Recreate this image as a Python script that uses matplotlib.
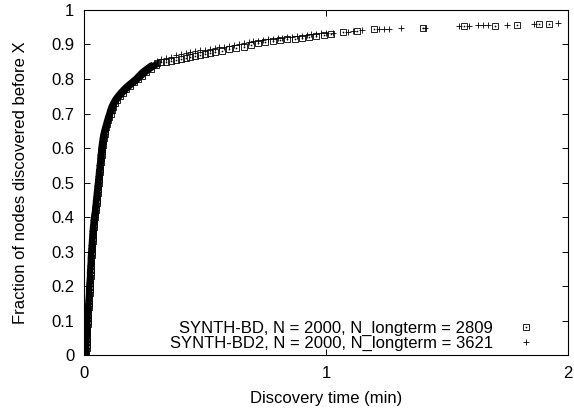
import matplotlib
matplotlib.use('Agg')
import matplotlib.pyplot as plt
from matplotlib.legend_handler import HandlerTuple

plt.rcParams['font.family'] = ['Liberation Sans', 'DejaVu Sans']

# fraction levels for the steep (dense) part of both CDFs
steep_frac = [0.00, 0.01, 0.02, 0.03, 0.04, 0.05, 0.06, 0.07, 0.08, 0.09,
              0.10, 0.11, 0.12, 0.13, 0.14, 0.15, 0.16, 0.17, 0.18, 0.19,
              0.20, 0.21, 0.22, 0.23, 0.24, 0.25, 0.26, 0.27, 0.28, 0.29,
              0.30, 0.31, 0.32, 0.33, 0.34, 0.35, 0.36, 0.37, 0.38, 0.39,
              0.40, 0.41, 0.42, 0.43, 0.44, 0.45, 0.46, 0.47, 0.48, 0.49,
              0.50, 0.51, 0.52, 0.53, 0.54, 0.55, 0.56, 0.57, 0.58, 0.59,
              0.60, 0.61, 0.62, 0.63, 0.64, 0.65, 0.66, 0.67, 0.68, 0.69,
              0.70, 0.71, 0.72, 0.73, 0.74, 0.75, 0.76, 0.77, 0.78, 0.79,
              0.80, 0.81, 0.82, 0.83, 0.84]

# SYNTH-BD (squares)
bd_steep_x = [0.009, 0.010, 0.011, 0.011, 0.012, 0.012, 0.013, 0.013, 0.014, 0.015,
              0.016, 0.016, 0.017, 0.018, 0.019, 0.020, 0.021, 0.022, 0.023, 0.023,
              0.024, 0.025, 0.026, 0.027, 0.027, 0.028, 0.029, 0.030, 0.031, 0.032,
              0.033, 0.034, 0.035, 0.036, 0.037, 0.038, 0.039, 0.040, 0.042, 0.043,
              0.045, 0.047, 0.049, 0.050, 0.052, 0.053, 0.055, 0.056, 0.058, 0.059,
              0.061, 0.062, 0.064, 0.065, 0.067, 0.068, 0.070, 0.071, 0.073, 0.075,
              0.076, 0.078, 0.080, 0.082, 0.085, 0.088, 0.092, 0.096, 0.100, 0.105,
              0.110, 0.115, 0.121, 0.128, 0.137, 0.148, 0.161, 0.175, 0.190, 0.207,
              0.224, 0.240, 0.256, 0.275, 0.297]
bd_tail_x = [0.30, 0.32, 0.34, 0.36, 0.38, 0.40, 0.42, 0.44, 0.46, 0.48,
             0.50, 0.52, 0.54, 0.57, 0.60, 0.63, 0.66, 0.69, 0.72, 0.75,
             0.78, 0.81, 0.84, 0.87, 0.90, 0.93, 0.96, 0.99, 1.02, 1.07,
             1.13, 1.20, 1.40, 1.57, 1.70, 1.79, 1.88, 1.92]
bd_tail_y = [0.846, 0.848, 0.850, 0.852, 0.855, 0.857, 0.860, 0.863, 0.866, 0.869,
             0.872, 0.875, 0.878, 0.882, 0.886, 0.890, 0.894, 0.899, 0.903, 0.906,
             0.910, 0.913, 0.915, 0.917, 0.919, 0.922, 0.924, 0.927, 0.930, 0.935,
             0.940, 0.944, 0.948, 0.953, 0.955, 0.956, 0.958, 0.959]

# SYNTH-BD2 (plus)
bd2_steep_x = [0.007, 0.008, 0.008, 0.009, 0.009, 0.010, 0.010, 0.011, 0.011, 0.012,
               0.013, 0.013, 0.014, 0.015, 0.016, 0.017, 0.018, 0.019, 0.020, 0.020,
               0.021, 0.022, 0.023, 0.024, 0.024, 0.025, 0.026, 0.027, 0.027, 0.028,
               0.029, 0.030, 0.031, 0.032, 0.033, 0.034, 0.035, 0.036, 0.038, 0.039,
               0.041, 0.043, 0.045, 0.046, 0.048, 0.049, 0.051, 0.052, 0.054, 0.055,
               0.057, 0.058, 0.060, 0.061, 0.063, 0.064, 0.066, 0.067, 0.068, 0.070,
               0.071, 0.073, 0.075, 0.077, 0.080, 0.083, 0.087, 0.091, 0.095, 0.099,
               0.104, 0.108, 0.113, 0.120, 0.128, 0.138, 0.150, 0.163, 0.178, 0.195,
               0.212, 0.226, 0.240, 0.258, 0.278]
bd2_tail_x = [0.30, 0.32, 0.34, 0.36, 0.38, 0.40, 0.42, 0.44, 0.46, 0.48,
              0.50, 0.52, 0.54, 0.56, 0.58, 0.60, 0.62, 0.64, 0.66, 0.68,
              0.70, 0.72, 0.74, 0.76, 0.78, 0.80, 0.82, 0.84, 0.86, 0.88,
              0.90, 0.92, 0.94, 0.96, 0.98, 1.00, 1.03, 1.09, 1.11, 1.15,
              1.22, 1.24, 1.26, 1.31, 1.41, 1.55, 1.59, 1.63, 1.65, 1.67,
              1.75, 1.86, 1.96]
bd2_tail_y = [0.853, 0.857, 0.861, 0.865, 0.869, 0.872, 0.875, 0.878, 0.880, 0.883,
              0.885, 0.887, 0.890, 0.892, 0.894, 0.897, 0.899, 0.902, 0.904, 0.907,
              0.909, 0.911, 0.913, 0.915, 0.917, 0.918, 0.920, 0.922, 0.923, 0.925,
              0.926, 0.928, 0.930, 0.931, 0.932, 0.933, 0.934, 0.937, 0.938, 0.941,
              0.945, 0.946, 0.946, 0.947, 0.949, 0.954, 0.955, 0.956, 0.956, 0.956,
              0.957, 0.960, 0.961]

bd_label = 'SYNTH-BD, N = 2000, N_longterm = 2809'
bd2_label = 'SYNTH-BD2, N = 2000, N_longterm = 3621'

bd_x = bd_steep_x + bd_tail_x
bd_y = steep_frac + bd_tail_y
bd2_x = bd2_steep_x + bd2_tail_x
bd2_y = steep_frac + bd2_tail_y

fig = plt.figure(figsize=(5.74, 4.13), dpi=100)
ax = fig.add_axes([0.1463, 0.1404, 0.8432, 0.8354])

# thousands of overlapping points merge into a solid band in the steep part
ax.plot(bd_steep_x, steep_frac, color='black', linewidth=4.2,
        solid_capstyle='round', solid_joinstyle='round')
ax.plot(bd2_steep_x, steep_frac, color='black', linewidth=4.2,
        solid_capstyle='round', solid_joinstyle='round')

h_sq, = ax.plot(bd_x, bd_y, linestyle='none', marker='s', markersize=4.2,
                markerfacecolor='none', markeredgecolor='black', markeredgewidth=0.6)
h_dot, = ax.plot(bd_x, bd_y, linestyle='none', marker='s', markersize=0.8,
                 markerfacecolor='black', markeredgecolor='black', markeredgewidth=0.3)
h_pl, = ax.plot(bd2_x, bd2_y, linestyle='none', marker='+', markersize=5.0,
                color='black', markeredgewidth=0.6)

ax.set_xlim(0, 2)
ax.set_ylim(0, 1)
ax.set_xticks([0, 1, 2])
ax.set_yticks([0, 0.1, 0.2, 0.3, 0.4, 0.5, 0.6, 0.7, 0.8, 0.9, 1])
ax.set_yticklabels(['0', '0.1', '0.2', '0.3', '0.4', '0.5', '0.6', '0.7', '0.8', '0.9', '1'])
ax.tick_params(direction='in', top=True, right=True, length=4.5, width=0.7,
               labelsize=12, color='black')
ax.tick_params(axis='y', pad=7)
ax.tick_params(axis='x', pad=8)
for s in ax.spines.values():
    s.set_linewidth(0.8)

ax.set_xlabel('Discovery time (min)', fontsize=12, labelpad=7)
ax.set_ylabel('Fraction of nodes discovered before X', fontsize=12, labelpad=17)

leg = ax.legend([(h_sq, h_dot), h_pl], [bd_label, bd2_label],
                handler_map={tuple: HandlerTuple(ndivide=1)},
                loc='lower right', bbox_to_anchor=(0.972, -0.022),
                frameon=False, markerfirst=False, fontsize=12,
                labelspacing=0.0, handletextpad=1.0, handlelength=2.0,
                borderpad=0.2)

fig.savefig('out.png', dpi=100)
